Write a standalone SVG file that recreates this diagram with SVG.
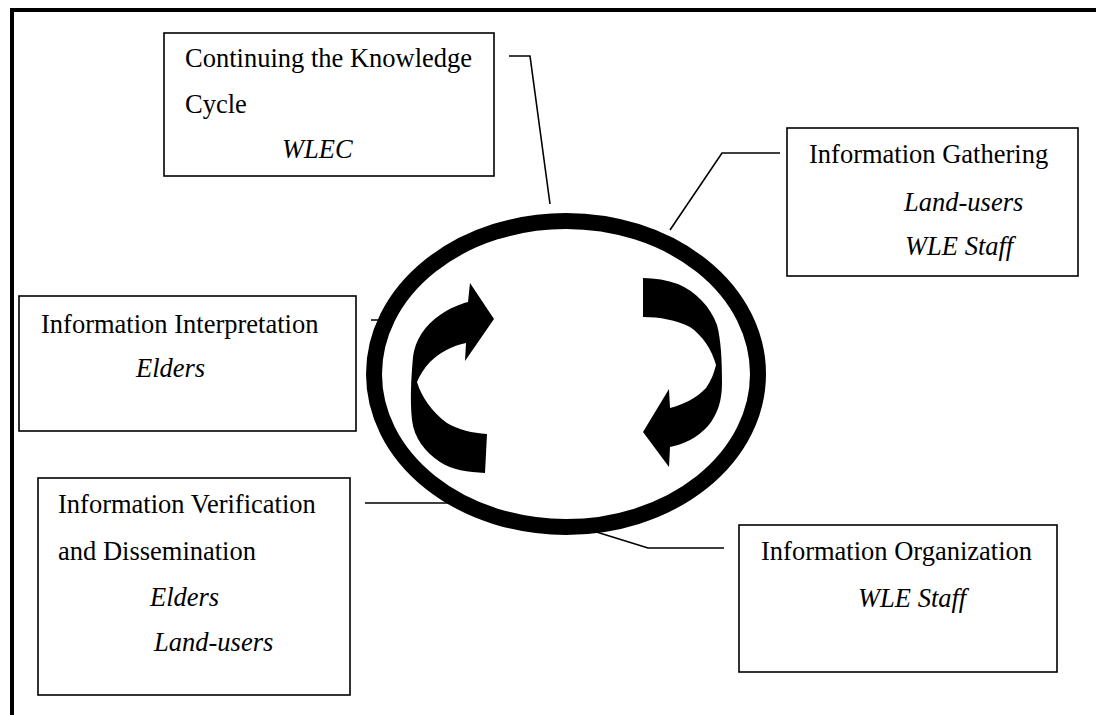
<svg xmlns="http://www.w3.org/2000/svg" width="1096" height="715" viewBox="0 0 1096 715">
<style>
.box{fill:#fff;stroke:#000;stroke-width:1.6}
.t{font-family:"Liberation Serif","Times New Roman",serif;font-size:26.5px;fill:#000}
.i{font-style:italic}
.c{fill:none;stroke:#000;stroke-width:1.6}
</style>
<rect x="0" y="0" width="1096" height="715" fill="#fff"/>
<path d="M12,720 V10 H1100" fill="none" stroke="#000" stroke-width="4"/>
<g id="connectors">
<path class="c" d="M509,56 H530 L550,204"/>
<path class="c" d="M670,230 L722,153 H780"/>
<path class="c" d="M371,320 H381 L393,298"/>
<path class="c" d="M365,503 H450"/>
<path class="c" d="M590,530 L648,548 H724"/>
</g>
<g id="cycle">
<ellipse cx="566" cy="374" rx="192" ry="153" fill="none" stroke="#000" stroke-width="16"/>
<path id="arrow-left" d="M487,434 L485,473 C468,472 452,470 440,462 C425,452 414,438 412,420 C410,400 411,380 413,357 C415,340 425,325 440,315 C450,308 460,304 468,302 L470,283 L494,319 L465,361 L466,343 C452,346 440,352 430,362 C424,368 420,375 417,382 C421,396 432,412 447,423 C459,430 472,433 487,434 Z" fill="#000"/>
<path id="arrow-right" d="M643,278 C655,278 667,280 678,284 C696,292 710,306 717,325 C721,340 722,360 722,383 C722,400 718,414 708,426 C697,438 684,444 670,447 L669,467 L643,432 L669,389 L670,408 C682,405 697,398 706,388 C711,381 714,373 716,365 C712,350 703,336 690,327 C676,320 660,317 643,317 Z" fill="#000"/>
</g>
<g id="node-continuing">
<rect class="box" x="164" y="33" width="330" height="143"/>
<text class="t" x="185" y="67">Continuing the Knowledge</text>
<text class="t" x="185" y="113">Cycle</text>
<text class="t i" x="282" y="158">WLEC</text>
</g>
<g id="node-gathering">
<rect class="box" x="787" y="128" width="291" height="148"/>
<text class="t" x="809" y="163">Information Gathering</text>
<text class="t i" x="904" y="211">Land-users</text>
<text class="t i" x="905" y="255">WLE Staff</text>
</g>
<g id="node-interpretation">
<rect class="box" x="19" y="296" width="337" height="135"/>
<text class="t" x="41" y="333">Information Interpretation</text>
<text class="t i" x="136" y="377">Elders</text>
</g>
<g id="node-verification">
<rect class="box" x="38" y="478" width="312" height="217"/>
<text class="t" x="58" y="513">Information Verification</text>
<text class="t" x="58" y="560">and Dissemination</text>
<text class="t i" x="150" y="606">Elders</text>
<text class="t i" x="154" y="651">Land-users</text>
</g>
<g id="node-organization">
<rect class="box" x="739" y="525" width="318" height="147"/>
<text class="t" x="761" y="560">Information Organization</text>
<text class="t i" x="858" y="607">WLE Staff</text>
</g>
</svg>
